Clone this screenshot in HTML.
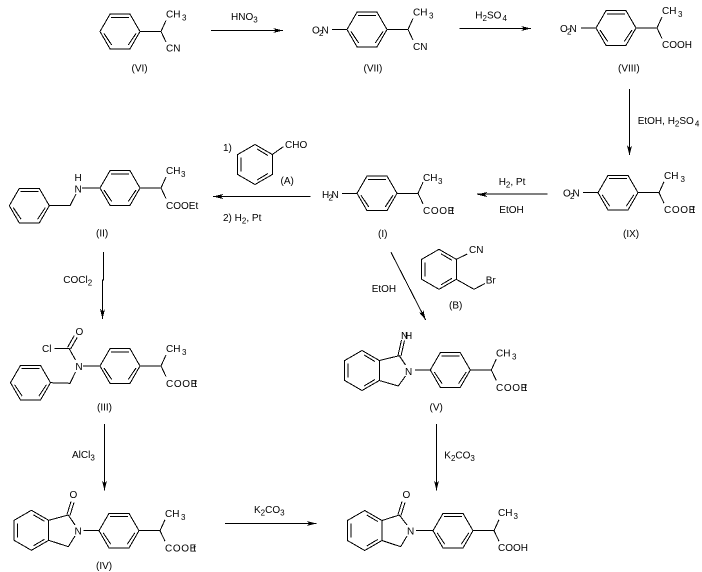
<!DOCTYPE html>
<html><head><meta charset="utf-8"><style>
html,body{margin:0;padding:0;background:#fff}
svg{display:block}
text{font-family:"Liberation Sans",Arial,sans-serif;font-size:10px;fill:#000}
.s{font-size:8px}
path,line,polyline{stroke:#000;stroke-width:1;fill:none;shape-rendering:crispEdges}
polygon{shape-rendering:crispEdges}
</style></head><body>
<svg width="702" height="572" viewBox="0 0 702 572" xmlns="http://www.w3.org/2000/svg">
<defs>
<g id="p"><path d="M-20 0L-10 -17.3L10 -17.3L20 0L10 17.3L-10 17.3ZM-9 -14L9 -14M-16 2L-8.3 13.5M16 2L8.3 13.5"/></g>
<g id="v"><path d="M0 -20L17.3 -10L17.3 10L0 20L-17.3 10L-17.3 -10ZM-13.8 -7L-13.8 7M2 -15.5L13 -9M2 15.5L13 9"/></g>
<g id="c"><path d="M20 0L41 0M41 0L46 -11M41 0L46 10.5"/></g>
<polygon id="h" points="0,0 -10,-2.5 -7.5,0 -10,2.5" fill="#000"/>
</defs>

<!-- VI -->
<use href="#p" x="120" y="31.5"/><use href="#c" x="120" y="31.5"/>
<text x="166" y="17.5">CH<tspan class="s" dx="1.5" dy="3">3</tspan></text>
<text x="166" y="51.5">CN</text>
<text x="131.5" y="71.5">(VI)</text>

<!-- VII -->
<use href="#p" x="367" y="29.5"/><use href="#c" x="367" y="29.5"/>
<path d="M332 29.5L347 29.5"/>
<text x="312" y="33.5">O</text><text x="319" y="36" class="s">2</text><text x="321.5" y="33.5">N</text>
<text x="413" y="15.5">CH<tspan class="s" dx="1.5" dy="3">3</tspan></text>
<text x="413" y="50">CN</text>
<text x="363.5" y="71.5">(VII)</text>

<!-- VIII -->
<use href="#p" x="616" y="28"/><use href="#c" x="616" y="28"/>
<path d="M581 28L596 28"/>
<text x="560" y="32">O</text><text x="567" y="34.5" class="s">2</text><text x="569.5" y="32">N</text>
<text x="662" y="14">CH<tspan class="s" dx="1.5" dy="3">3</tspan></text>
<text x="662" y="48">COOH</text>
<text x="618" y="71.5">(VIII)</text>

<!-- IX -->
<use href="#p" x="618" y="192.7"/><use href="#c" x="618" y="192.7"/>
<path d="M583 192.7L598 192.7"/>
<text x="563" y="196.7">O</text><text x="570" y="199.2" class="s">2</text><text x="572.5" y="196.7">N</text>
<text x="664" y="179">CH<tspan class="s" dx="2" dy="3">3</tspan></text>
<text x="664" y="213"><tspan letter-spacing=".6">COO</tspan><tspan>E</tspan><tspan dx="-3">t</tspan></text>
<text x="623" y="237">(IX)</text>

<!-- I -->
<use href="#p" x="377" y="193.3"/><use href="#c" x="377" y="193.3"/>
<path d="M342 193.3L357 193.3"/>
<text x="322" y="198">H</text><text x="328.5" y="200.5" class="s">2</text><text x="331.5" y="198">N</text>
<text x="423" y="181">CH<tspan class="s" dx="0.5" dy="3">3</tspan></text>
<text x="423" y="214"><tspan letter-spacing=".6">COO</tspan><tspan>E</tspan><tspan dx="-3">t</tspan></text>
<text x="378" y="237">(I)</text>

<!-- II -->
<use href="#p" x="120" y="188"/><use href="#c" x="120" y="188"/>
<use href="#p" x="29.3" y="205.7"/>
<path d="M49.3 205.7L70 205.7L76 194M82 188L100 188"/>
<text x="74.5" y="181">H</text><text x="74.5" y="192.5">N</text>
<text x="166" y="174">CH<tspan class="s" dx="0.5" dy="3">3</tspan></text>
<text x="166" y="209">COOEt</text>
<text x="96" y="236.5">(II)</text>

<!-- A -->
<use href="#v" x="255" y="164.5"/>
<path d="M272.3 154.5L283.3 146.7"/>
<text x="285" y="148">CHO</text>
<text x="223" y="151">1)</text>
<text x="280.5" y="184">(A)</text>
<text x="223" y="221">2) H<tspan class="s" dy="2.5">2</tspan><tspan dy="-2.5">, Pt</tspan></text>

<!-- III -->
<use href="#p" x="120" y="366"/><use href="#c" x="120" y="366"/>
<use href="#p" x="30.5" y="382.7"/>
<path d="M54.3 348.3L69 348.3L75.5 360M83 366L100 366M75.5 372L70 383.3L50.5 382.7"/>
<path d="M67.6 347.3L74.3 335.5M70.6 349L77.3 337.3"/>
<text x="42" y="352">Cl</text>
<text x="75.5" y="335">O</text>
<text x="75.4" y="370">N</text>
<text x="166" y="352">CH<tspan class="s" dx="1.5" dy="3">3</tspan></text>
<text x="166" y="387"><tspan letter-spacing=".6">COO</tspan><tspan>E</tspan><tspan dx="-3">t</tspan></text>
<text x="97" y="410.5">(III)</text>

<!-- IV -->
<use href="#p" x="119" y="530.7"/><use href="#c" x="119" y="530.7"/>
<use href="#v" x="31.4" y="530.3"/>
<path d="M48.7 520.3L68.3 515L75 525M75 536L68.3 546.7L48.7 540.3M83.5 530.7L99 530.7"/>
<path d="M67 514.5L71 501.5M70 515.5L74 502.5"/>
<text x="69.5" y="498">O</text>
<text x="74.5" y="534.7">N</text>
<text x="165" y="517">CH<tspan class="s" dx="1.5" dy="3">3</tspan></text>
<text x="165" y="551.5"><tspan letter-spacing=".6">COO</tspan><tspan>E</tspan><tspan dx="-3">t</tspan></text>
<text x="96" y="569">(IV)</text>

<!-- B -->
<use href="#v" x="439" y="269.3"/>
<path d="M456.3 259.3L467.3 254M456.3 279.3L474 289.3L485 283.5"/>
<text x="469" y="253">CN</text>
<text x="485.7" y="283.5">Br</text>
<text x="449" y="308.5">(B)</text>

<!-- V -->
<use href="#p" x="450.3" y="370"/><use href="#c" x="450.3" y="370"/>
<use href="#v" x="362" y="370.5"/>
<path d="M379.3 360.5L399.3 355.7L405.5 365M405.5 376L398.3 386L379.3 380.5M415 370L430.5 370"/>
<path d="M398 355.5L401.5 340M401 356L404.5 340.5"/>
<text x="401" y="339">N</text><text x="405" y="339">H</text>
<text x="405" y="375">N</text>
<text x="496" y="356.5">CH<tspan class="s" dx="1.5" dy="3">3</tspan></text>
<text x="496" y="391"><tspan letter-spacing=".6">COO</tspan><tspan>E</tspan><tspan dx="-3">t</tspan></text>
<text x="429.5" y="410.5">(V)</text>

<!-- Final -->
<use href="#p" x="453" y="530.7"/><use href="#c" x="453" y="530.7"/>
<use href="#v" x="364.7" y="530.5"/>
<path d="M382 520.5L399.3 515L407 525M407 536L400.7 546.7L382 540.5M416 530.7L433 530.7"/>
<path d="M398 514.5L402 501.5M401 515.5L405 502.5"/>
<text x="402.5" y="498">O</text>
<text x="407" y="534.7">N</text>
<text x="498" y="516">CH<tspan class="s" dx="1" dy="3">3</tspan></text>
<text x="498" y="551">COOH</text>

<!-- Arrows -->
<path d="M211 30.5L283 30.5"/><use href="#h" transform="translate(283,30.5)"/>
<path d="M459.3 28.5L531 28.5"/><use href="#h" transform="translate(531,28.5)"/>
<path d="M629.3 89L629.3 155"/><use href="#h" transform="translate(629.5,155.5) rotate(90)"/>
<path d="M547.7 194L477 194"/><use href="#h" transform="translate(477,194.5) rotate(180)"/>
<path d="M310.7 196.7L213 196.7"/><use href="#h" transform="translate(213,196.5) rotate(180)"/>
<path d="M103.3 252L103.3 280L102.7 280L102.7 319"/><use href="#h" transform="translate(102.5,319) rotate(90)"/>
<path d="M104.3 424L104.3 490.5"/><use href="#h" transform="translate(104.5,490.7) rotate(90)"/>
<path d="M225 523.3L316.7 523.3"/><use href="#h" transform="translate(316.7,523.5)"/>
<path d="M391 252.3L425.7 320"/><use href="#h" transform="translate(425.7,320) rotate(62.9)"/>
<path d="M436.3 424L436.3 490.5"/><use href="#h" transform="translate(436.5,490.7) rotate(90)"/>

<!-- Reagents -->
<text x="231" y="20">HNO<tspan class="s" dy="2.5">3</tspan></text>
<text x="475.3" y="18.5">H<tspan class="s" dy="2.5">2</tspan><tspan dy="-2.5">SO</tspan><tspan class="s" dx="1" dy="2.5">4</tspan></text>
<text x="637.7" y="124">EtOH, H<tspan class="s" dy="2.5">2</tspan><tspan dy="-2.5">SO</tspan><tspan class="s" dx="1" dy="2.5">4</tspan></text>
<text x="498.7" y="185">H<tspan class="s" dy="2.5">2</tspan><tspan dy="-2.5">, Pt</tspan></text>
<text x="499.3" y="213">EtOH</text>
<text x="63.3" y="283">COCl<tspan class="s" dy="2.5">2</tspan></text>
<text x="72" y="458">AlCl<tspan class="s" dy="2.5">3</tspan></text>
<text x="254" y="513">K<tspan class="s" dy="2.5">2</tspan><tspan dy="-2.5">CO</tspan><tspan class="s" dy="2.5">3</tspan></text>
<text x="444.3" y="458.5">K<tspan class="s" dy="2.5">2</tspan><tspan dy="-2.5">CO</tspan><tspan class="s" dy="2.5">3</tspan></text>
<text x="371.7" y="292">EtOH</text>
</svg>
</body></html>
